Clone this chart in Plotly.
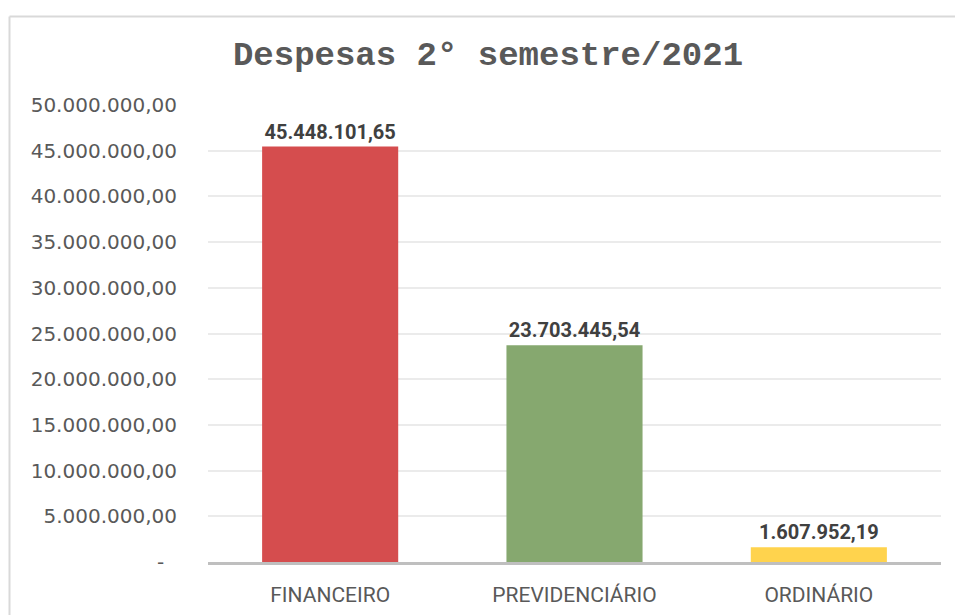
import plotly.graph_objects as go

categories = ["FINANCEIRO", "PREVIDENCIÁRIO", "ORDINÁRIO"]
values = [45448101.65, 23703445.54, 1607952.19]
value_labels = ["45.448.101,65", "23.703.445,54", "1.607.952,19"]
bar_colors = ["#D54D4E", "#86A86F", "#FFD34D"]
tick_vals = [0, 5e6, 10e6, 15e6, 20e6, 25e6, 30e6, 35e6, 40e6, 45e6, 50e6]
tick_text = ["-\u00a0\u00a0", "5.000.000,00", "10.000.000,00", "15.000.000,00", "20.000.000,00",
             "25.000.000,00", "30.000.000,00", "35.000.000,00", "40.000.000,00",
             "45.000.000,00", "50.000.000,00"]

W, H = 955, 615
ml, mr, mt, mb = 208, 14, 105, 53

fig = go.Figure()
fig.add_trace(go.Bar(
    x=categories, y=values, marker=dict(color=bar_colors, line=dict(width=0)),
    width=0.557,
    text=value_labels, textposition="outside", cliponaxis=False,
    textfont=dict(family="Roboto", size=20, color="#404040", weight="bold"),
    hoverinfo="skip",
))

fig.update_layout(
    width=W, height=H,
    margin=dict(l=ml, r=mr, t=mt, b=mb),
    paper_bgcolor="white", plot_bgcolor="white",
    showlegend=False,
    title=dict(text="<b>Despesas 2° semestre/2021</b>", x=488 / W, xref="container",
               xanchor="center", y=1 - 53 / H, yanchor="middle", yref="container",
               font=dict(family="Liberation Mono", size=34, color="#595959")),
    xaxis=dict(showgrid=False, showline=True, linecolor="#BFBFBF", linewidth=3,
               ticks="", tickfont=dict(family="Roboto", size=21, color="#595959"),
               ticklabelstandoff=12, zeroline=False, automargin=False),
    yaxis=dict(range=[0, 50e6], tickvals=tick_vals, ticktext=tick_text,
               showgrid=True, gridcolor="#EBEBEB", gridwidth=1.5,
               zeroline=False, showline=False, ticks="",
               tickfont=dict(family="DejaVu Sans", size=20, color="#595959"),
               ticklabelstandoff=30, automargin=False),
    bargap=0.443,
)

# chart border (Excel chart area outline)
pw = W - ml - mr
ph = H - mt - mb
def px_x(px):
    return (px - ml) / pw
def px_y(py):
    return (H - mb - py) / ph
fig.add_shape(type="line", xref="paper", yref="paper",
              x0=px_x(9.5), x1=px_x(955), y0=px_y(16.5), y1=px_y(16.5),
              line=dict(color="#D9D9D9", width=2))
fig.add_shape(type="line", xref="paper", yref="paper",
              x0=px_x(9.5), x1=px_x(9.5), y0=px_y(16.5), y1=px_y(615),
              line=dict(color="#D9D9D9", width=2))

fig.write_html("out.html", config={"displayModeBar": False},
               post_script="document.body.style.margin='0';document.body.style.overflow='hidden';")
